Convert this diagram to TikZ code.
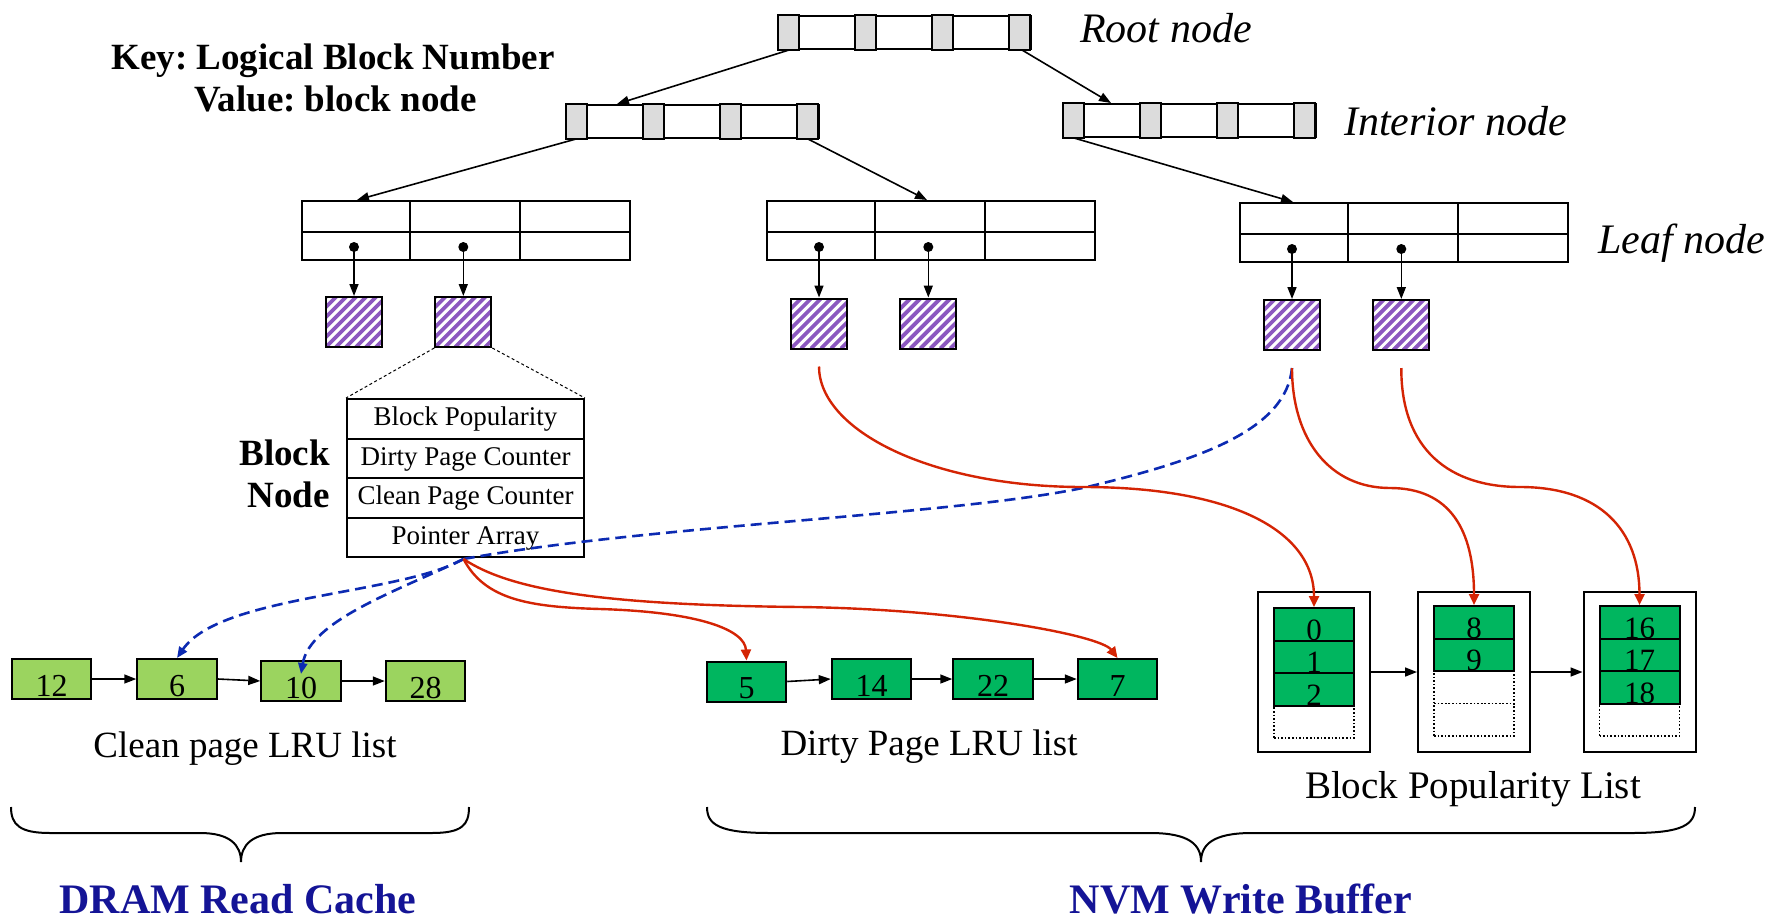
\documentclass[tikz,border=0pt]{standalone}
\usepackage{fontspec}
\setmainfont{Liberation Serif}
\usetikzlibrary{arrows.meta,calc}
\frenchspacing

\definecolor{cellgray}{RGB}{220,220,220}
\definecolor{hatchpurple}{RGB}{140,88,192}
\definecolor{lgreen}{RGB}{155,212,95}
\definecolor{dgreen}{RGB}{0,182,95}
\definecolor{linkred}{RGB}{212,36,4}
\definecolor{linkblue}{RGB}{12,42,178}
\definecolor{titleblue}{RGB}{20,20,150}

\newcommand\pxfont[1]{\fontsize{#1pt}{#1pt}\selectfont}

% B+-tree key node: white box with four grey pointer cells
\newcommand\keynode[3]{%
  \node[treebox] (#1) at (#2+126,#3+16.5) {};
  \foreach \k in {0,77,154,231}
    \filldraw[fill=cellgray, draw=black, line width=2pt]
      ([xshift=\k]#1.north west) rectangle ([xshift=\k+21]#1.south west);
}

% leaf node: two rows, three columns
\newcommand\leafnode[3]{%
  \node[leafbox] (#1) at (#2+164,#3+29.5) {};
  \draw[line width=2pt] ([yshift=-32]#1.north west) -- ([yshift=-32]#1.north east);
  \draw[line width=2pt] ([xshift=109.3]#1.north west) -- ([xshift=109.3]#1.south west);
  \draw[line width=2pt] ([xshift=218.7]#1.north west) -- ([xshift=218.7]#1.south west);
}

\begin{document}
\begin{tikzpicture}[x=1pt,y=-1pt,
  treebox/.style={draw, line width=2pt, fill=white, minimum width=252, minimum height=33, inner sep=0pt},
  leafbox/.style={draw, line width=2pt, minimum width=328, minimum height=59, inner sep=0pt},
  hatchbox/.style={draw, line width=2pt, fill=white, minimum width=56, minimum height=50, inner sep=0pt,
    path picture={\foreach \i in {-7,...,7}
      \draw[hatchpurple, line width=3.8pt]
        ([xshift=\i*10pt]path picture bounding box.south west) -- ++(60pt,60pt);}},
  dotnode/.style={circle, fill=black, inner sep=0pt, minimum size=10},
  arr/.style={line width=1.6pt, -{Triangle[length=12pt,width=9pt]}},
  rowbox/.style={draw, line width=2pt, fill=white, minimum width=237, minimum height=39.5, inner sep=0pt,
    text height=18pt, text depth=4pt, font=\pxfont{27}},
  dotline/.style={line width=1pt, dash pattern=on 3pt off 2.5pt},
  listbox/.style={draw, line width=2pt, minimum width=79.5, minimum height=40, inner sep=0pt,
    text height=34pt, text depth=0pt, font=\pxfont{32}},
  cleanbox/.style={listbox, fill=lgreen},
  dirtybox/.style={listbox, fill=dgreen},
  outerbox/.style={draw, line width=2pt, minimum width=112, minimum height=160, inner sep=0pt},
  slot/.style={draw, line width=2pt, fill=dgreen, minimum width=80, minimum height=32.5, inner sep=0pt,
    text height=32pt, text depth=0pt, font=\pxfont{31}},
  emptyslot/.style={draw, line width=1.6pt, dash pattern=on 1.6pt off 2pt, minimum width=80, minimum height=32.5, inner sep=0pt},
  keyfont/.style={font=\pxfont{37}\bfseries, inner sep=0pt},
  lbl/.style={font=\pxfont{42}\itshape, inner sep=0pt},
  listlbl/.style={font=\pxfont{37}, inner sep=0pt},
  titlefont/.style={font=\pxfont{42}\bfseries, text=titleblue, inner sep=0pt},
  redlink/.style={draw=linkred, line width=2.4pt, -{Triangle[length=11pt,width=10pt]}, fill=none},
  bluelink/.style={draw=linkblue, line width=2.6pt, dash pattern=on 11pt off 6pt},
  bluearr/.style={bluelink, -{Triangle[length=11pt,width=9pt]}},
]
\useasboundingbox (0,0) rectangle (1774,921);

% ---------- key / value legend ----------
\node[keyfont, anchor=base] (keyline) at (333,69) {Key: Logical Block Number};
\node[keyfont, anchor=base] (valline) at (335.5,111) {Value: block node};

% ---------- tree ----------
\keynode{root}{779}{16}
\keynode{intL}{567}{105}
\keynode{intR}{1064}{104}
\leafnode{leafL}{302}{201}
\leafnode{leafM}{767}{201}
\leafnode{leafR}{1240}{203}

\node[lbl, anchor=base west] (rootlbl) at (1080,42) {Root node};
\node[lbl, anchor=base west] (intlbl) at (1344,135) {Interior node};
\node[lbl, anchor=base west] (leaflbl) at (1598,253) {Leaf node};

\draw[arr] ([xshift=11]root.south west) -- ([xshift=51]intL.north west);
\draw[arr] ([xshift=-10]root.south east) -- ([xshift=48]intR.north west);
\draw[arr] ([xshift=10]intL.south west) -- ([xshift=56]leafL.north west);
\draw[arr] ([xshift=-12]intL.south east) -- ([xshift=161]leafM.north west);
\draw[arr] ([xshift=11]intR.south west) -- ([xshift=54]leafR.north west);

% block nodes hanging off the leaves
\node[dotnode] (dL1) at (354,247) {};
\node[dotnode] (dL2) at (463.3,247) {};
\node[dotnode] (dM1) at (819,247) {};
\node[dotnode] (dM2) at (928.3,247) {};
\node[dotnode] (dR1) at (1292,249) {};
\node[dotnode] (dR2) at (1401.3,249) {};

\node[hatchbox] (sqL1) at (354,322) {};
\node[hatchbox] (sqL2) at (463.3,322) {};
\node[hatchbox] (sqM1) at (819,323.5) {};
\node[hatchbox] (sqM2) at (928.3,323.5) {};
\node[hatchbox] (sqR1) at (1292,325) {};
\node[hatchbox] (sqR2) at (1401.3,325) {};

\draw[arr] (dL1.center) -- (sqL1.north);
\draw[arr] (dL2.center) -- (sqL2.north);
\draw[arr] (dM1.center) -- (sqM1.north);
\draw[arr] (dM2.center) -- (sqM2.north);
\draw[arr] (dR1.center) -- (sqR1.north);
\draw[arr] (dR2.center) -- (sqR2.north);

% ---------- block node layout ----------
\node[rowbox] (bp1) at (465.5,418.75) {Block Popularity};
\node[rowbox] (bp2) at (465.5,458.25) {Dirty Page Counter};
\node[rowbox] (bp3) at (465.5,497.75) {Clean Page Counter};
\node[rowbox] (bp4) at (465.5,537.25) {Pointer Array};
\draw[dotline] (sqL2.south west) -- (bp1.north west);
\draw[dotline] (sqL2.south east) -- (bp1.north east);
\node[keyfont, anchor=base east] (bnA) at (330,465) {Block};
\node[keyfont, anchor=base east] (bnB) at (330,507) {Node};

% ---------- clean page LRU list ----------
\node[cleanbox] (c12) at (51.5,679) {12};
\node[cleanbox] (c6) at (177,679) {6};
\node[cleanbox] (c10) at (301,681) {10};
\node[cleanbox] (c28) at (425.5,681) {28};
\draw[arr] (c12.east) -- (c6.west);
\draw[arr] (c6.east) -- (c10.west);
\draw[arr] (c10.east) -- (c28.west);
\node[listlbl, anchor=base] (cleanlbl) at (245,757) {Clean page LRU list};

% ---------- dirty page LRU list ----------
\node[dirtybox] (d5) at (746.5,681.5) {5};
\node[dirtybox] (d14) at (871.5,679) {14};
\node[dirtybox] (d22) at (993,679) {22};
\node[dirtybox] (d7) at (1117.5,679) {7};
\draw[arr] (d5.east) -- (d14.west);
\draw[arr] (d14.east) -- (d22.west);
\draw[arr] (d22.east) -- (d7.west);
\node[listlbl, anchor=base] (dirtylbl) at (929,755) {Dirty Page LRU list};

% ---------- block popularity list ----------
\node[outerbox] (g1) at (1314,672) {};
\node[slot] (s0) at (1314,624.25) {0};
\node[slot] (s1) at (1314,656.75) {1};
\node[slot] (s2) at (1314,689.25) {2};
\node[emptyslot] (e1) at (1314,721.75) {};

\node[outerbox] (g2) at (1474,672) {};
\node[slot] (s8) at (1474,622.25) {8};
\node[slot] (s9) at (1474,654.75) {9};
\node[emptyslot] (e2a) at (1474,687.25) {};
\node[emptyslot] (e2b) at (1474,719.75) {};

\node[outerbox] (g3) at (1639.5,672) {};
\node[slot] (s16) at (1639.5,622.25) {16};
\node[slot] (s17) at (1639.5,654.75) {17};
\node[slot] (s18) at (1639.5,687.25) {18};
\node[emptyslot] (e3) at (1639.5,719.75) {};

\draw[arr] (g1.east) -- (g2.west);
\draw[arr] (g2.east) -- (g3.west);
\node[font=\pxfont{39}, anchor=base, inner sep=0pt] (poplbl) at (1473,798) {Block Popularity List};

% ---------- pointer links ----------
\coordinate (mtail) at ($(sqM1.south)+(0,17)$);
\coordinate (rtail1) at ($(sqR1.south)+(0,17)$);
\coordinate (rtail2) at ($(sqR2.south)+(0,17)$);
\coordinate (pa) at ($(bp4.south)+(-2,1)$);

\draw[bluelink] (rtail1) .. controls (1286,430) and (1200,460) .. (1087,487)
  .. controls (960,515) and (650,525) .. (pa);
\draw[bluearr] (pa) .. controls (400,595) and (220,595) .. (c6.north);
\draw[bluearr] (pa) .. controls (400,590) and (310,620) .. ($(c10.north)+(0,14)$);

\draw[redlink] (mtail) .. controls (819,430) and (930,487) .. (1083,487)
  .. controls (1230,487) and (1314,530) .. (s0.north);
\draw[redlink] (rtail1) .. controls (1292,440) and (1330,488) .. (1390,488)
  .. controls (1450,488) and (1474,530) .. (s8.north);
\draw[redlink] (rtail2) .. controls (1401,450) and (1450,487) .. (1520,487)
  .. controls (1600,487) and (1639.5,530) .. (s16.north);
\draw[redlink] (pa) .. controls (485,600) and (530,607) .. (600,609)
  .. controls (700,612) and (745,630) .. (d5.north);
\draw[redlink] (pa) .. controls (510,590) and (600,605) .. (800,607)
  .. controls (960,609) and (1100,635) .. (d7.north);

% ---------- grouping braces ----------
\draw[line width=2pt] (11,807) .. controls (11,825) and (20,833) .. (50,833) -- (200,833)
  .. controls (230,833) and (241,845) .. (241,862)
  .. controls (241,845) and (252,833) .. (282,833) -- (432,833)
  .. controls (462,833) and (469,825) .. (469,807);
\draw[line width=2pt] (707,807) .. controls (707,825) and (720,833) .. (770,833) -- (1150,833)
  .. controls (1190,833) and (1201,845) .. (1201,862)
  .. controls (1201,845) and (1212,833) .. (1252,833) -- (1632,833)
  .. controls (1682,833) and (1695,825) .. (1695,807);

\node[titlefont, anchor=base] (dramlbl) at (238,913) {DRAM Read Cache};
\node[titlefont, anchor=base] (nvmlbl) at (1241,913) {NVM Write Buffer};
\end{tikzpicture}
\end{document}
